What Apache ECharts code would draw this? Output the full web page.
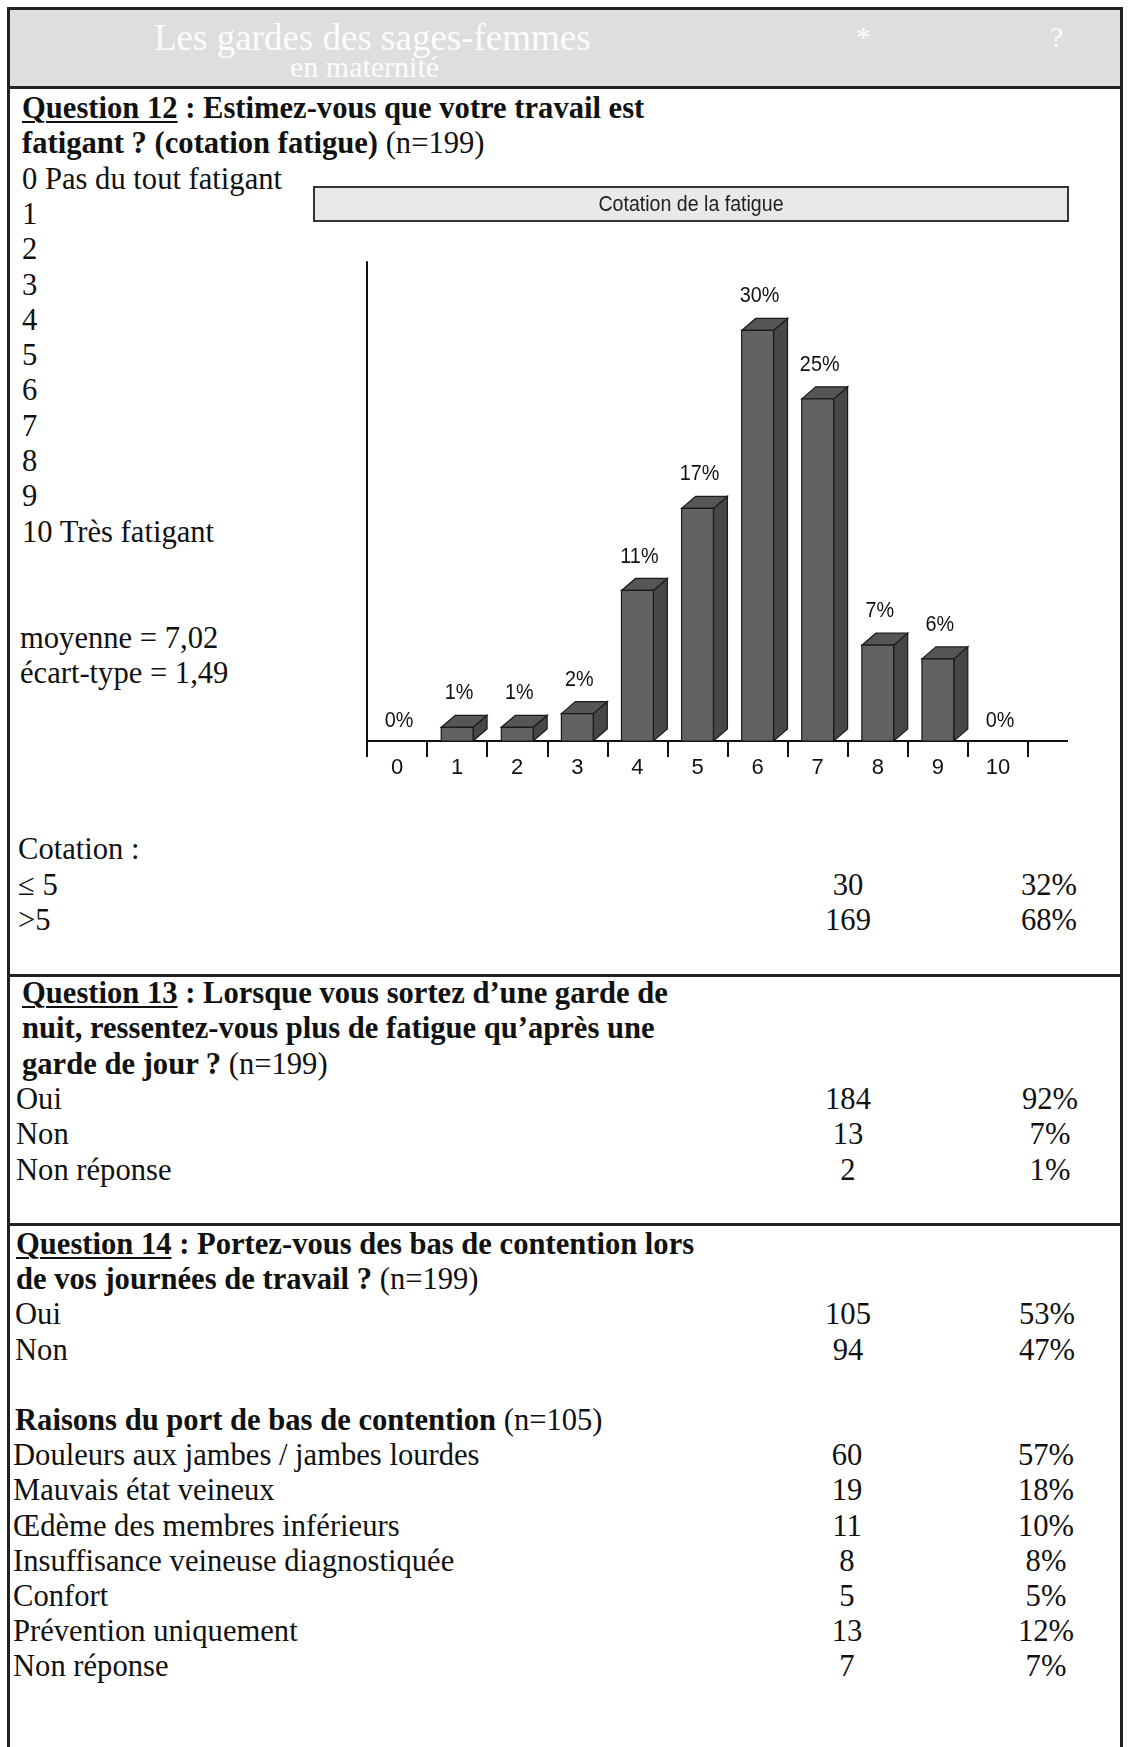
<!DOCTYPE html>
<html><head><meta charset="utf-8">
<script src="https://cdn.jsdelivr.net/npm/echarts@6/dist/echarts.min.js"></script>
<style>
html,body{margin:0;padding:0;background:#fff;}
#page{position:relative;width:1131px;height:1747px;overflow:hidden;font-family:'Liberation Serif','Times New Roman',serif;font-size:30.6px;color:#111;}
.ln{position:absolute;white-space:nowrap;height:35.3px;line-height:35.3px;}
.num{position:absolute;width:140px;text-align:center;white-space:nowrap;height:35.3px;line-height:35.3px;}
.hr{position:absolute;background:#222;}
#chart{position:absolute;left:0;top:0;width:1131px;height:1747px;z-index:2;}
u{text-decoration:underline;text-decoration-thickness:2px;text-underline-offset:3px;}
.banner{position:absolute;left:10px;top:10px;width:1110px;height:76px;background:#dedede;}
.btxt{position:absolute;color:#fff;font-size:37px;white-space:nowrap;opacity:0.92;}
</style></head>
<body>
<div id="page">
  <div class="banner">
    <div class="btxt" style="left:144px;top:6px;">Les gardes des sages-femmes</div>
    <div class="btxt" style="left:280px;top:40px;font-size:30px;">en maternité</div>
    <div class="btxt" style="left:846px;top:10px;font-size:30px;">*</div>
    <div class="btxt" style="left:1040px;top:10px;font-size:30px;">?</div>
  </div>
  <div class="hr" style="left:7px;top:7px;width:1116px;height:3px;"></div>
  <div class="hr" style="left:7px;top:7px;width:3px;height:1740px;"></div>
  <div class="hr" style="left:1120px;top:7px;width:3px;height:1740px;"></div>
  <div class="hr" style="left:7px;top:86px;width:1116px;height:3px;"></div>
  <div class="hr" style="left:7px;top:974px;width:1116px;height:3px;"></div>
  <div class="hr" style="left:7px;top:1223px;width:1116px;height:3px;"></div>
  <div id="text"></div>
  <div id="chart"></div>
</div>
<script>
// ---------- Data ----------
const categories = ['0','1','2','3','4','5','6','7','8','9','10'];
const fatiguePct = [0, 1, 1, 2, 11, 17, 30, 25, 7, 6, 0];
const chartTitle = 'Cotation de la fatigue';

const scaleLabels = ['0 Pas du tout fatigant','1','2','3','4','5','6','7','8','9','10 Très fatigant'];
const statLabels = ['moyenne = 7,02','écart-type = 1,49'];
const cotationLabels = ['≤ 5','>5'];
const cotationCounts = [30, 169];
const cotationPct = ['32%','68%'];

const q13Labels = ['Oui','Non','Non réponse'];
const q13Counts = [184, 13, 2];
const q13Pct = ['92%','7%','1%'];

const q14Labels = ['Oui','Non'];
const q14Counts = [105, 94];
const q14Pct = ['53%','47%'];

const raisonLabels = ['Douleurs aux jambes / jambes lourdes','Mauvais état veineux','Œdème des membres inférieurs','Insuffisance veineuse diagnostiquée','Confort','Prévention uniquement','Non réponse'];
const raisonCounts = [60, 19, 11, 8, 5, 13, 7];
const raisonPct = ['57%','18%','10%','8%','5%','12%','7%'];

// ---------- Text layout ----------
const host = document.getElementById('text');
function line(top, left, html){
  const d = document.createElement('div');
  d.className = 'ln'; d.style.top = top + 'px'; d.style.left = left + 'px';
  d.innerHTML = html; host.appendChild(d);
}
function num(top, cx, txt){
  const d = document.createElement('div');
  d.className = 'num'; d.style.top = top + 'px'; d.style.left = (cx - 70) + 'px';
  d.textContent = txt; host.appendChild(d);
}
// Question 12
let T = 91, LH = 35.3;
line(T, 22, '<b><u>Question 12</u> : Estimez-vous que votre travail est</b>');
line(T + LH, 22, '<b>fatigant ? (cotation fatigue)</b> (n=199)');
scaleLabels.forEach((s, i) => line(T + (2 + i) * LH, 22, s));
statLabels.forEach((s, i) => line(T + (15 + i) * LH, 20, s));
line(T + 21 * LH, 18, 'Cotation :');
cotationLabels.forEach((s, i) => {
  const y = T + (22 + i) * LH;
  line(y, 18, s); num(y, 848, cotationCounts[i]); num(y, 1049, cotationPct[i]);
});
// Question 13
T = 976;
line(T, 22, '<b><u>Question 13</u> : Lorsque vous sortez d’une garde de</b>');
line(T + LH, 22, '<b>nuit, ressentez-vous plus de fatigue qu’après une</b>');
line(T + 2 * LH, 22, '<b>garde de jour ?</b> (n=199)');
q13Labels.forEach((s, i) => {
  const y = T + (3 + i) * LH;
  line(y, 16, s); num(y, 848, q13Counts[i]); num(y, 1050, q13Pct[i]);
});
// Question 14
T = 1227; const LH2 = 35.2;
line(T, 16, '<b><u>Question 14</u> : Portez-vous des bas de contention lors</b>');
line(T + LH2, 16, '<b>de vos journées de travail ?</b> (n=199)');
q14Labels.forEach((s, i) => {
  const y = T + (2 + i) * LH2;
  line(y, 15, s); num(y, 848, q14Counts[i]); num(y, 1047, q14Pct[i]);
});
line(T + 5 * LH2, 15, '<b>Raisons du port de bas de contention</b> (n=105)');
raisonLabels.forEach((s, i) => {
  const y = T + (6 + i) * LH2;
  line(y, 13, s); num(y, 847, raisonCounts[i]); num(y, 1046, raisonPct[i]);
});

// ---------- Chart ----------
const chart = echarts.init(document.getElementById('chart'), null, {renderer: 'canvas'});
const SANS = "'Liberation Sans', Arial, sans-serif";
function renderBar(params, api){
  const idx = api.value(0), v = api.value(1);
  const base = api.coord([idx, 0]);
  const top = api.coord([idx, v]);
  const bw = api.size([1, 0])[0] * 0.53;
  const x0 = base[0] - bw / 2, x1 = base[0] + bw / 2;
  const dx = 14, dy = 12;
  const ch = [];
  if (v > 0) {
    ch.push({type:'polygon', shape:{points:[[x1, top[1]],[x1+dx, top[1]-dy],[x1+dx, base[1]-dy],[x1, base[1]]]},
      style:{fill:'#474747', stroke:'#1a1a1a', lineWidth:1.2}});
    ch.push({type:'polygon', shape:{points:[[x0, top[1]],[x0+dx, top[1]-dy],[x1+dx, top[1]-dy],[x1, top[1]]]},
      style:{fill:'#565656', stroke:'#1a1a1a', lineWidth:1.2}});
    ch.push({type:'rect', shape:{x:x0, y:top[1], width:bw, height:base[1]-top[1]},
      style:{fill:'#626262', stroke:'#1a1a1a', lineWidth:1.2}});
  }
  ch.push({type:'text', x: base[0] + 2, y: v > 0 ? top[1] - 23 : base[1] - 9, scaleX: 0.9,
    style:{x: 0, y: 0, text: v + '%', align:'center', verticalAlign:'bottom', fontSize:22, fontFamily:SANS, fill:'#111'}});
  return {type:'group', children: ch};
}
chart.setOption({
  animation: false,
  grid: {left: 367, top: 262, width: 661, height: 479, containLabel: false},
  xAxis: {type:'category', data: categories, boundaryGap: true,
    axisLine: {show: true, lineStyle: {color:'#111', width: 2}},
    axisTick: {show: true, length: 16, lineStyle: {color:'#111', width: 2}},
    axisLabel: {margin: 16, fontSize: 22, color:'#111', fontFamily: SANS},
    splitLine: {show: false}},
  yAxis: {type:'value', min: 0, max: 35,
    axisLine: {show: true, lineStyle: {color:'#111', width: 2}},
    axisTick: {show: false}, axisLabel: {show: false}, splitLine: {show: false}},
  graphic: [
    {type:'rect', shape:{x:314, y:187, width:754, height:34}, style:{fill:'#e9e9e9', stroke:'#333', lineWidth:2}},
    {type:'text', x:691, y:205, scaleX:0.89, style:{x:0, y:0, text: chartTitle, align:'center', verticalAlign:'middle', fontSize:22, fontFamily:SANS, fill:'#222'}},
    {type:'line', shape:{x1:1028, y1:741, x2:1068, y2:741}, style:{stroke:'#111', lineWidth:2}}
  ],
  series: [{type:'custom', data: fatiguePct.map((v, i) => [i, v]), encode:{x:0, y:1}, renderItem: renderBar, clip: false}]
});
</script>
</body></html>
